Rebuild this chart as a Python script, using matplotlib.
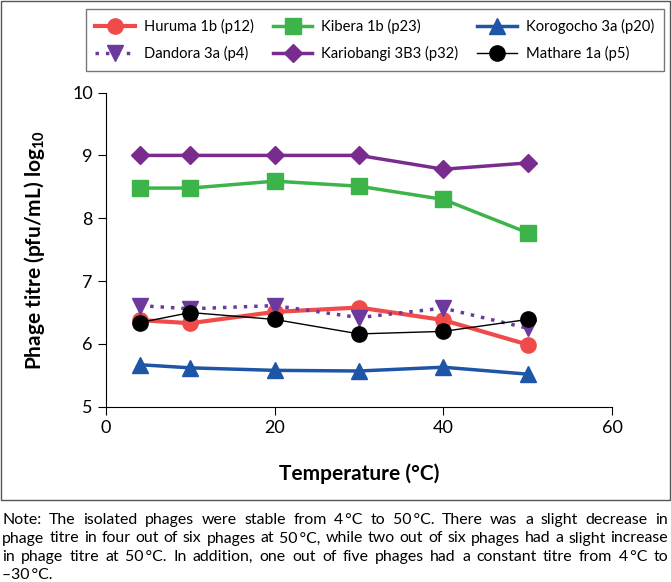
import matplotlib.pyplot as plt
from matplotlib.patches import Rectangle

plt.rcParams['font.family'] = ['Lato', 'DejaVu Sans']
plt.rcParams['mathtext.fontset'] = 'custom'
plt.rcParams['mathtext.rm'] = 'Lato'
plt.rcParams['mathtext.bf'] = 'Lato:bold'

# Temperatura (°C)
temperatura = [4, 10, 20, 30, 40, 50]

# Títulos de fagos (log10 pfu/mL)
huruma = [6.38, 6.33, 6.51, 6.58, 6.38, 5.99]
kibera = [8.48, 8.48, 8.59, 8.51, 8.30, 7.77]
korogocho = [5.67, 5.62, 5.58, 5.57, 5.63, 5.52]
dandora = [6.61, 6.56, 6.61, 6.42, 6.57, 6.25]
kariobangi = [9.00, 9.00, 9.00, 9.00, 8.78, 8.88]
mathare = [6.34, 6.50, 6.39, 6.16, 6.20, 6.39]

series = ['Huruma 1b (p12)', 'Kibera 1b (p23)', 'Korogocho 3a (p20)',
          'Dandora 3a (p4)', 'Kariobangi 3B3 (p32)', 'Mathare 1a (p5)']

nota = [
    "Note: The isolated phages were stable from 4\u2009°C to 50\u2009°C. There was a slight decrease in",
    "phage titre in four out of six phages at 50\u2009°C, while two out of six phages had a slight increase",
    "in phage titre at 50\u2009°C. In addition, one out of five phages had a constant titre from 4\u2009°C to",
    "\u201330\u2009°C.",
]

fig = plt.figure(figsize=(6.71, 5.82), dpi=100)
ax = fig.add_axes([0.158, 0.301, 0.754, 0.540])

l_hur, = ax.plot(temperatura, huruma, color='#F04B4B', lw=3, marker='o', ms=11,
                 label=series[0])
l_kib, = ax.plot(temperatura, kibera, color='#3CB44A', lw=2.5, marker='s', ms=11,
                 label=series[1])
l_kor, = ax.plot(temperatura, korogocho, color='#1F55A6', lw=2.5, marker='^', ms=11,
                 label=series[2])
l_dan, = ax.plot(temperatura, dandora, color='#6B3A9C', lw=2.5, ls=(0, (1, 2)),
                 marker='v', ms=11, label=series[3])
l_kar, = ax.plot(temperatura, kariobangi, color='#7A2C8E', lw=2.5, marker='D', ms=9,
                 label=series[4])
l_mat, = ax.plot(temperatura, mathare, color='black', lw=1, marker='o', ms=11,
                 label=series[5])

ax.set_xlim(0, 60)
ax.set_ylim(5, 10)
ax.set_xticks([0, 20, 40, 60])
ax.set_yticks([5, 6, 7, 8, 9, 10])
ax.spines['top'].set_visible(False)
ax.spines['right'].set_visible(False)
ax.tick_params(labelsize=13, length=6, color='black')
ax.set_xlabel('Temperature (°C)', fontsize=15, fontweight='bold', labelpad=20)
ax.set_ylabel('Phage titre (pfu/mL) log$_\\mathbf{10}$', fontsize=15,
              fontweight='bold', labelpad=18)

handles = [l_hur, l_dan, l_kib, l_kar, l_kor, l_mat]
fig.legend(handles=handles, loc='upper left', mode='expand',
           bbox_to_anchor=(0.128, 0.0, 0.861, 0.9845),
           ncol=3, fontsize=10.6, frameon=True, fancybox=False, edgecolor='#555555',
           handlelength=2.7, handletextpad=0.6, columnspacing=1.0,
           borderpad=0.65, labelspacing=0.85, borderaxespad=0)

fig.patches.append(Rectangle((0.001, 0.141), 0.997, 0.857, transform=fig.transFigure,
                             fill=False, edgecolor='#555555', lw=1))

# Nota justificada bajo el gráfico
W, H = fig.get_size_inches() * fig.dpi
renderer = fig.canvas.get_renderer()
x_izq, x_der = 2, 668
y_lineas = [520, 538.5, 557, 575]
for i, linea in enumerate(nota):
    y = 1 - y_lineas[i] / H
    palabras = linea.split(' ')
    if i == len(nota) - 1:
        fig.text(x_izq / W, y, linea, fontsize=11.4, va='center', ha='left')
        continue
    textos = [fig.text(0, y, p, fontsize=11.4, va='center', ha='left') for p in palabras]
    anchos = [t.get_window_extent(renderer).width for t in textos]
    hueco = (x_der - x_izq - sum(anchos)) / (len(palabras) - 1)
    x = x_izq
    for t, a in zip(textos, anchos):
        t.set_x(x / W)
        x += a + hueco

fig.savefig('out.png', dpi=100)
